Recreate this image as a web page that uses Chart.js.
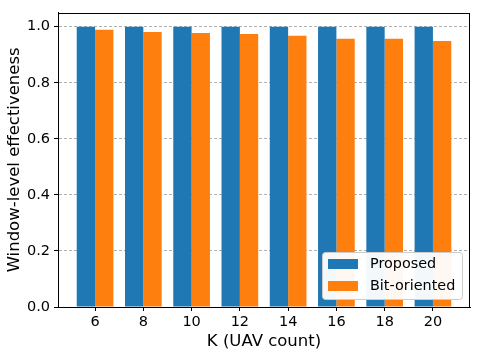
<!DOCTYPE html>
<html>
<head>
<meta charset="utf-8">
<script src="https://cdn.jsdelivr.net/npm/chart.js@4.4.1/dist/chart.umd.min.js"></script>
<style>
html,body{margin:0;padding:0;background:#fff;}
#wrap{width:478px;height:357px;position:relative;}
</style>
</head>
<body>
<div id="wrap"><canvas id="c" width="478" height="357"></canvas></div>
<script>
const categories = [6, 8, 10, 12, 14, 16, 18, 20];
const proposed = [1.0, 1.0, 1.0, 1.0, 1.0, 1.0, 1.0, 1.0];
const bitOriented = [0.989, 0.981, 0.978, 0.974, 0.968, 0.957, 0.957, 0.949];
const yTicks = [0.0, 0.2, 0.4, 0.6, 0.8, 1.0];
const seriesNames = ['Proposed', 'Bit-oriented'];
const xTitle = 'K (UAV count)';
const yTitle = 'Window-level effectiveness';

const FONT = 'DejaVu Sans';
const BLUE = '#1f77b4', ORANGE = '#ff7f0e';

const framePlugin = {
  id: 'frame',
  afterDraw(chart) {
    const {ctx, chartArea: a} = chart;
    ctx.save();
    ctx.strokeStyle = '#000';
    ctx.lineWidth = 1;
    ctx.strokeRect(Math.round(a.left) + 0.5, Math.round(a.top) + 0.5,
                   Math.round(a.right - a.left) - 1, Math.round(a.bottom - a.top));
    // legend
    const bx = 322.5, by = 252.5, bw = 140, bh = 47, r = 3;
    ctx.beginPath();
    ctx.moveTo(bx + r, by);
    ctx.lineTo(bx + bw - r, by);
    ctx.arcTo(bx + bw, by, bx + bw, by + r, r);
    ctx.lineTo(bx + bw, by + bh - r);
    ctx.arcTo(bx + bw, by + bh, bx + bw - r, by + bh, r);
    ctx.lineTo(bx + r, by + bh);
    ctx.arcTo(bx, by + bh, bx, by + bh - r, r);
    ctx.lineTo(bx, by + r);
    ctx.arcTo(bx, by, bx + r, by, r);
    ctx.closePath();
    ctx.fillStyle = 'rgba(255,255,255,0.95)';
    ctx.fill();
    ctx.strokeStyle = '#cccccc';
    ctx.stroke();
    ctx.font = '14.4px "' + FONT + '"';
    ctx.textBaseline = 'middle';
    ctx.textAlign = 'left';
    chart.data.datasets.forEach((ds, i) => {
      const y = 259 + i * 22;
      ctx.fillStyle = ds.backgroundColor;
      ctx.fillRect(328, y, 30, 10);
      ctx.fillStyle = '#000';
      ctx.fillText(ds.label, 370, y + 5.5);
    });
    ctx.restore();
  }
};

new Chart(document.getElementById('c'), {
  type: 'bar',
  data: {
    datasets: [
      {label: seriesNames[0], data: categories.map((k, i) => ({x: k, y: proposed[i]})), backgroundColor: BLUE},
      {label: seriesNames[1], data: categories.map((k, i) => ({x: k, y: bitOriented[i]})), backgroundColor: ORANGE}
    ]
  },
  options: {
    responsive: false,
    animation: false,
    devicePixelRatio: 1,
    layout: {padding: {top: 7, right: 8, left: 0, bottom: 0}},
    datasets: {bar: {categoryPercentage: 0.76, barPercentage: 1.0, borderWidth: 0}},
    plugins: {legend: {display: false}, tooltip: {enabled: false}},
    scales: {
      x: {
        type: 'linear',
        offset: false,
        min: categories[0] - 1.536,
        max: categories[categories.length - 1] + 1.536,
        afterBuildTicks(scale) { scale.ticks = categories.map(v => ({value: v})); },
        afterFit(scale) { scale.height = 50; },
        grid: {drawOnChartArea: false, drawTicks: true, tickLength: 4, tickColor: '#000', tickWidth: 1, offset: false},
        border: {display: true, color: '#000', width: 1},
        ticks: {color: '#000', padding: 3, maxRotation: 0, autoSkip: false, font: {family: FONT, size: 14.5}, callback: v => String(v)},
        title: {display: true, text: xTitle, color: '#000', font: {family: FONT, size: 16.5}, padding: {top: 0, bottom: 5}}
      },
      y: {
        min: 0,
        max: 1.05,
        afterBuildTicks(scale) { scale.ticks = yTicks.map(v => ({value: v})); },
        afterFit(scale) { scale.width = 58; },
        grid: {color: '#b0b0b0', lineWidth: 1, drawTicks: true, tickLength: 4, tickColor: '#000', tickWidth: 1, tickBorderDash: []},
        border: {display: true, color: '#000', width: 1, dash: [3, 2]},
        ticks: {color: '#000', padding: 4, font: {family: FONT, size: 14.5}, callback: v => Number(v).toFixed(1)},
        title: {display: true, text: yTitle, color: '#000', font: {family: FONT, size: 16.5}, padding: {top: 5, bottom: 0}}
      }
    }
  },
  plugins: [framePlugin]
});
</script>
</body>
</html>
